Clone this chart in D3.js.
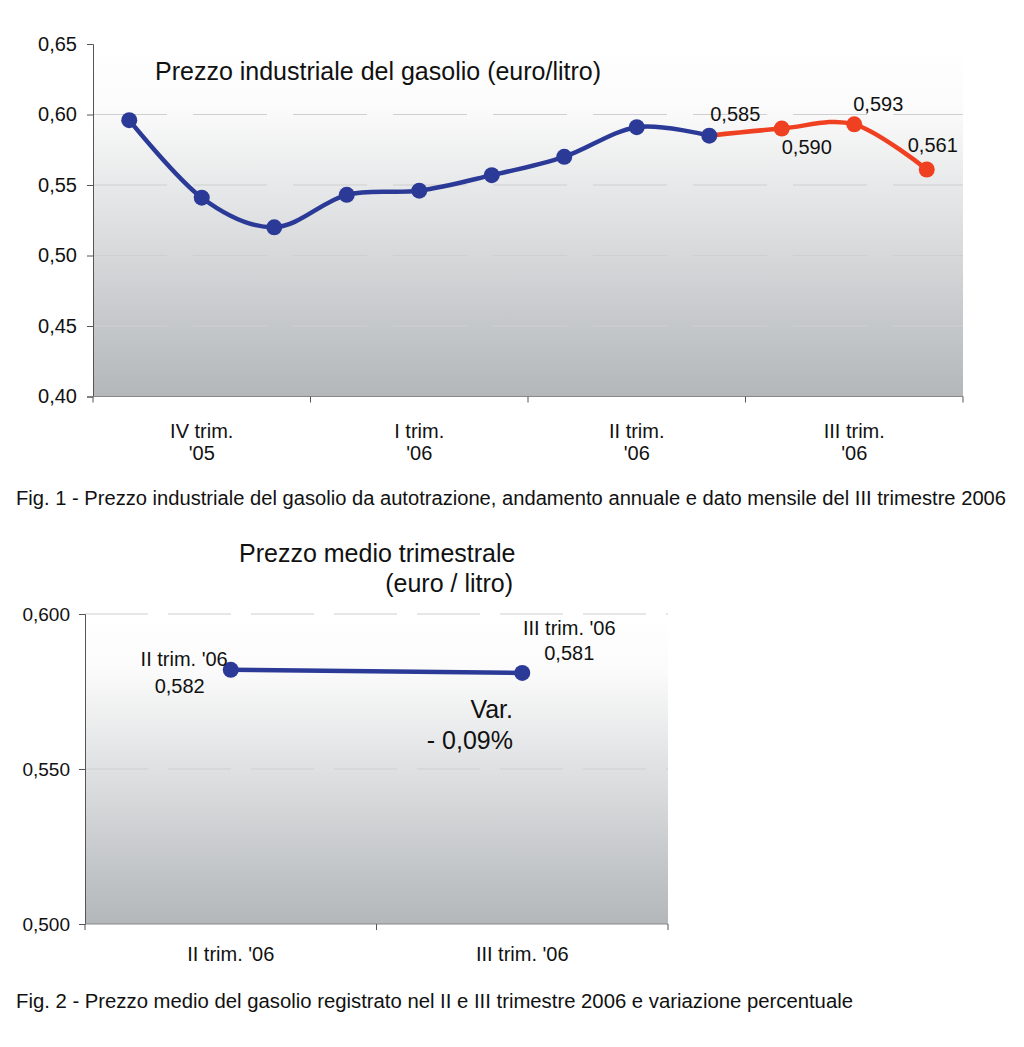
<!DOCTYPE html>
<html><head><meta charset="utf-8">
<script src="https://cdn.jsdelivr.net/npm/d3@7"></script>
<style>
html,body{margin:0;padding:0;background:#fff;}
svg{display:block;font-family:"Liberation Sans",Arial,sans-serif;}
</style></head>
<body>
<svg id="c" width="1024" height="1047"></svg>
<script>
// ---------- DATA ----------
const months = ["ott-05","nov-05","dic-05","gen-06","feb-06","mar-06","apr-06","mag-06","giu-06","lug-06","ago-06","set-06"];
const quarters = ["IV trim.|'05","I trim.|'06","II trim.|'06","III trim.|'06"];
const bluePrices = [0.596,0.541,0.520,0.543,0.546,0.557,0.570,0.591,0.585];
const redMonths = ["giu-06","lug-06","ago-06","set-06"];
const redPrices = [0.585,0.590,0.593,0.561];
const redLabels = ["0,585","0,590","0,593","0,561"];
const yTicks1 = [0.40,0.45,0.50,0.55,0.60,0.65];

const quarters2 = ["II trim. '06","III trim. '06"];
const avgPrices = [0.582,0.581];
const avgLabels = ["0,582","0,581"];
const yTicks2 = [0.500,0.550,0.600];

const fmt2 = d => d.toFixed(2).replace(".",",");
const fmt3 = d => d.toFixed(3).replace(".",",");

const svg = d3.select("#c");
const defs = svg.append("defs");
const grad = defs.append("linearGradient").attr("id","bg").attr("x1",0).attr("y1",0).attr("x2",0).attr("y2",1);
grad.append("stop").attr("offset","0%").attr("stop-color","#ffffff");
grad.append("stop").attr("offset","18%").attr("stop-color","#fbfbfb");
grad.append("stop").attr("offset","100%").attr("stop-color","#b3b7ba");

const BLUE = "#2c3a97", RED = "#ef4121";
const TXT = "#111";

// ---------- CHART 1 ----------
{
  const L=93,R=963,T=44,B=396.5;
  const x = d3.scaleBand().domain(months).range([L,R]);
  const xq = d3.scaleBand().domain(quarters).range([L,R]);
  const y = d3.scaleLinear().domain([0.40,0.65]).range([B,T]);
  const cx = m => x(m)+x.bandwidth()/2;
  const g = svg.append("g");
  g.append("rect").attr("x",L).attr("y",y(0.65)).attr("width",R-L).attr("height",y(0.40)-y(0.65)).attr("fill","url(#bg)");
  g.selectAll(".grid").data(yTicks1.filter(v=>v>0.40&&v<0.65)).join("line")
    .attr("x1",L).attr("x2",R).attr("y1",d=>y(d)).attr("y2",d=>y(d))
    .attr("stroke","#cfcfcf").attr("stroke-width",1).attr("stroke-dasharray","74,26");
  const ya = g.append("g").attr("transform",`translate(${L},0)`)
    .call(d3.axisLeft(y).tickValues(yTicks1).tickFormat(fmt2).tickSize(6).tickPadding(10));
  ya.select(".domain").attr("stroke","#555");
  ya.selectAll(".tick line").attr("stroke","#555");
  ya.selectAll("text").attr("font-size",20).attr("fill",TXT).attr("font-family","Liberation Sans, Arial, sans-serif");
  g.append("line").attr("x1",L).attr("x2",R).attr("y1",B).attr("y2",B).attr("stroke","#888");
  const edges = quarters.map(q=>xq(q)).concat([R]);
  g.selectAll(".xt").data(edges).join("line").attr("x1",d=>d).attr("x2",d=>d).attr("y1",B).attr("y2",B+6).attr("stroke","#555");
  quarters.forEach(q=>{
    const [a,b]=q.split("|");
    const qx = xq(q)+xq.bandwidth()/2;
    const t = g.append("text").attr("text-anchor","middle").attr("font-size",20).attr("fill",TXT);
    t.append("tspan").attr("x",qx).attr("y",438).text(a);
    t.append("tspan").attr("x",qx).attr("y",460).text(b);
  });
  g.append("text").attr("x",155).attr("y",80).attr("font-size",25).attr("fill",TXT).text("Prezzo industriale del gasolio (euro/litro)");
  const line = d3.line().x(d=>cx(d.m)).y(d=>y(d.v)).curve(d3.curveCardinal.tension(0));
  const blue = bluePrices.map((v,i)=>({m:months[i],v}));
  const red = redPrices.map((v,i)=>({m:redMonths[i],v}));
  g.append("path").attr("d",line(red)).attr("fill","none").attr("stroke",RED).attr("stroke-width",4.5);
  g.append("path").attr("d",line(blue)).attr("fill","none").attr("stroke",BLUE).attr("stroke-width",4.5);
  g.selectAll(".rd").data(red.slice(1)).join("circle").attr("cx",d=>cx(d.m)).attr("cy",d=>y(d.v)).attr("r",8).attr("fill",RED);
  g.selectAll(".bd").data(blue).join("circle").attr("cx",d=>cx(d.m)).attr("cy",d=>y(d.v)).attr("r",8).attr("fill",BLUE);
  const dx = [26,25,24,6], dy = [-15,25,-13,-17];
  red.forEach((d,i)=>{
    g.append("text").attr("x",cx(d.m)+dx[i]).attr("y",y(d.v)+dy[i])
     .attr("text-anchor","middle").attr("font-size",20).attr("fill",TXT).text(redLabels[i]);
  });
  svg.append("text").attr("x",16).attr("y",505).attr("font-size",20).attr("fill",TXT)
    .attr("textLength",990).attr("lengthAdjust","spacingAndGlyphs")
    .text("Fig. 1 - Prezzo industriale del gasolio da autotrazione, andamento annuale e dato mensile del III trimestre 2006");
}

// ---------- CHART 2 ----------
{
  const L=85,R=668,T=614,B=924;
  const x = d3.scaleBand().domain(quarters2).range([L,R]);
  const y = d3.scaleLinear().domain([0.500,0.600]).range([B,T]);
  const g = svg.append("g");
  g.append("rect").attr("x",L).attr("y",T).attr("width",R-L).attr("height",B-T).attr("fill","url(#bg)");
  g.selectAll(".grid").data(yTicks2.filter(v=>v>0.500)).join("line")
    .attr("x1",L).attr("x2",R).attr("y1",d=>y(d)).attr("y2",d=>y(d))
    .attr("stroke","#cfcfcf").attr("stroke-width",1).attr("stroke-dasharray","63,20");
  const ya = g.append("g").attr("transform",`translate(${L},0)`)
    .call(d3.axisLeft(y).tickValues(yTicks2).tickFormat(fmt3).tickSize(6).tickPadding(9));
  ya.select(".domain").attr("stroke","#555");
  ya.selectAll(".tick line").attr("stroke","#555");
  ya.selectAll("text").attr("font-size",19).attr("fill",TXT).attr("font-family","Liberation Sans, Arial, sans-serif");
  g.append("line").attr("x1",L).attr("x2",R).attr("y1",B).attr("y2",B).attr("stroke","#888");
  const edges = quarters2.map(q=>x(q)).concat([R]);
  g.selectAll(".xt").data(edges).join("line").attr("x1",d=>d).attr("x2",d=>d).attr("y1",B).attr("y2",B+6).attr("stroke","#555");
  quarters2.forEach(q=>{
    g.append("text").attr("x",x(q)+x.bandwidth()/2).attr("y",961).attr("text-anchor","middle").attr("font-size",20).attr("fill",TXT).text(q);
  });
  g.append("text").attr("x",239).attr("y",562).attr("font-size",25).attr("fill",TXT).text("Prezzo medio trimestrale");
  g.append("text").attr("x",513).attr("y",592).attr("text-anchor","end").attr("font-size",25).attr("fill",TXT).text("(euro / litro)");
  const pts = avgPrices.map((v,i)=>({q:quarters2[i],v}));
  const px = d => x(d.q)+x.bandwidth()/2;
  const line = d3.line().x(px).y(d=>y(d.v));
  g.append("path").attr("d",line(pts)).attr("fill","none").attr("stroke",BLUE).attr("stroke-width",4.5);
  g.selectAll(".bd").data(pts).join("circle").attr("cx",px).attr("cy",d=>y(d.v)).attr("r",8).attr("fill",BLUE);
  const p0 = {x:px(pts[0]), y:y(pts[0].v)};
  const p1 = {x:px(pts[1]), y:y(pts[1].v)};
  g.append("text").attr("x",p0.x-3).attr("y",p0.y-4).attr("text-anchor","end").attr("font-size",20).attr("fill",TXT).text(quarters2[0]);
  g.append("text").attr("x",p0.x-26).attr("y",p0.y+23).attr("text-anchor","end").attr("font-size",20).attr("fill",TXT).text(avgLabels[0]);
  g.append("text").attr("x",p1.x+47).attr("y",p1.y-38).attr("text-anchor","middle").attr("font-size",20).attr("fill",TXT).text(quarters2[1]);
  g.append("text").attr("x",p1.x+47).attr("y",p1.y-13).attr("text-anchor","middle").attr("font-size",20).attr("fill",TXT).text(avgLabels[1]);
  g.append("text").attr("x",513).attr("y",718).attr("text-anchor","end").attr("font-size",25).attr("fill",TXT).text("Var.");
  g.append("text").attr("x",513).attr("y",749).attr("text-anchor","end").attr("font-size",25).attr("fill",TXT).text("- 0,09%");
  svg.append("text").attr("x",16).attr("y",1008).attr("font-size",20).attr("fill",TXT)
    .attr("textLength",837).attr("lengthAdjust","spacingAndGlyphs")
    .text("Fig. 2 - Prezzo medio del gasolio registrato nel II e III trimestre 2006 e variazione percentuale");
}
</script>
</body></html>
